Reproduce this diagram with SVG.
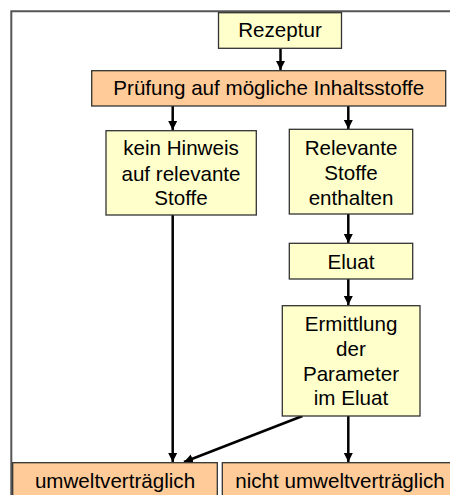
<svg xmlns="http://www.w3.org/2000/svg" width="450" height="495" viewBox="0 0 450 495">
<defs>
<style>
.y{fill:#FFFFCC;stroke:#333;stroke-width:1.3}
.o{fill:#FFCC99;stroke:#333;stroke-width:1.3}
text{font-family:"Liberation Sans",Arial,sans-serif;font-size:20.6px;fill:#000;text-anchor:middle}
.c{stroke:#000;stroke-width:2.5;fill:none}
</style>
<marker id="ah" markerUnits="userSpaceOnUse" markerWidth="10" markerHeight="10" refX="9" refY="5" orient="auto">
<path d="M0,0.5 L9,5 L0,9.5 Z" fill="#000"/>
</marker>
</defs>
<rect width="450" height="495" fill="#fff"/>
<path d="M11.3,500 V11.3 H460" fill="none" stroke="#555" stroke-width="2"/>
<g id="connectors">
<path class="c" d="M280.5,48.5 V70" marker-end="url(#ah)"/>
<path class="c" d="M172.7,106 V130" marker-end="url(#ah)"/>
<path class="c" d="M348.3,106 V129" marker-end="url(#ah)"/>
<path class="c" d="M348.3,214 V243" marker-end="url(#ah)"/>
<path class="c" d="M348.3,279 V305" marker-end="url(#ah)"/>
<path class="c" d="M172.7,215 V462" marker-end="url(#ah)"/>
<path class="c" d="M302.5,416 L184,462" marker-end="url(#ah)"/>
<path class="c" d="M348.3,416 V462" marker-end="url(#ah)"/>
</g>
<g id="rezeptur"><rect class="y" x="218.5" y="12.7" width="123" height="35.6"/><text x="280" y="37.3">Rezeptur</text></g>
<g id="pruefung"><rect class="o" x="91.7" y="70.7" width="354" height="35.3"/><text x="268.8" y="95.3">Prüfung auf mögliche Inhaltsstoffe</text></g>
<g id="kein"><rect class="y" x="106" y="130.7" width="150.3" height="84.3"/><text x="181" y="155.3">kein Hinweis</text><text x="181" y="180.7">auf relevante</text><text x="181" y="205.3">Stoffe</text></g>
<g id="relevante"><rect class="y" x="289.3" y="129.3" width="123.4" height="84.7"/><text x="351" y="154.5">Relevante</text><text x="351" y="179.5">Stoffe</text><text x="351" y="204.5">enthalten</text></g>
<g id="eluat"><rect class="y" x="289.3" y="243.3" width="123.4" height="35.7"/><text x="351" y="268.5">Eluat</text></g>
<g id="ermittlung"><rect class="y" x="282.3" y="305.7" width="137.7" height="110.3"/><text x="351" y="331.2">Ermittlung</text><text x="351" y="356">der</text><text x="351" y="380.5">Parameter</text><text x="351" y="405.2">im Eluat</text></g>
<g id="umwelt"><rect class="o" x="12.7" y="462.7" width="204.6" height="40"/><text x="115" y="488">umweltverträglich</text></g>
<g id="nicht"><rect class="o" x="222.3" y="462.7" width="235" height="40"/><text x="340" y="488">nicht umweltverträglich</text></g>
</svg>
